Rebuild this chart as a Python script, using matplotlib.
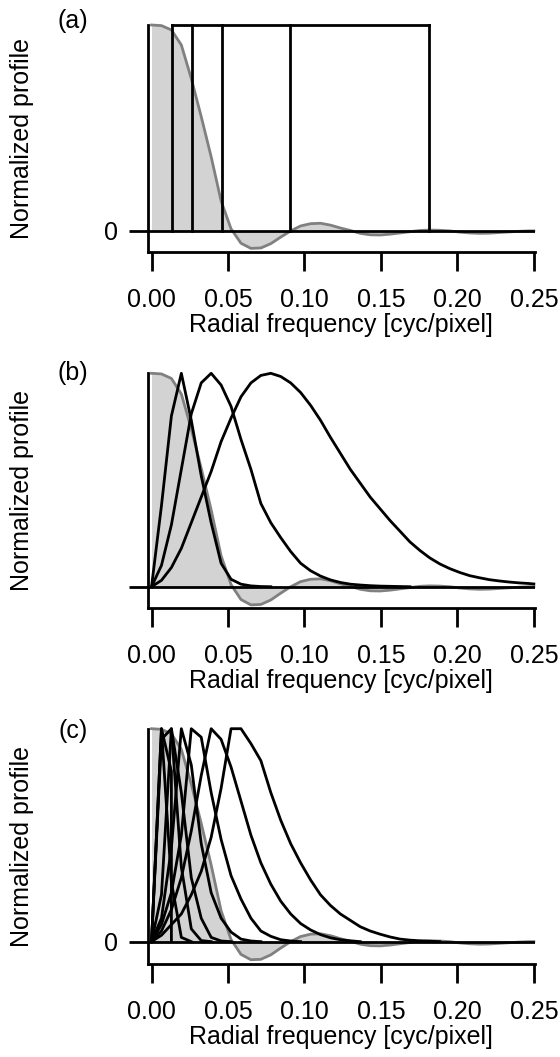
import numpy as np
import matplotlib.pyplot as plt

plt.rcParams['font.family'] = ['Liberation Sans', 'DejaVu Sans']
plt.rcParams['font.size'] = 18

# sampled radial frequencies [cyc/pixel]
freq = [0.0, 0.0065, 0.013, 0.0195, 0.026, 0.0325, 0.039, 0.0455, 0.052, 0.0585,
        0.065, 0.0715, 0.078, 0.0845, 0.091, 0.0975, 0.104, 0.1105, 0.117, 0.1235,
        0.13, 0.1365, 0.143, 0.1495, 0.156, 0.1625, 0.169, 0.1755, 0.182, 0.1885,
        0.195, 0.2015, 0.208, 0.2145, 0.221, 0.2275, 0.234, 0.2405, 0.247, 0.25]

# grey reference profile (same in all panels)
profile = [1.0, 0.997, 0.976, 0.903, 0.74, 0.555, 0.36, 0.145, 0.01, -0.06,
           -0.085, -0.083, -0.062, -0.03, 0.0, 0.024, 0.035, 0.037, 0.028, 0.014,
           0.002, -0.012, -0.019, -0.02, -0.016, -0.01, -0.004, 0.002, 0.004, 0.003,
           0.0, -0.006, -0.01, -0.012, -0.011, -0.008, -0.005, -0.002, 0.0, 0.0]

# (a) ideal band edges
band_edges = [0.0132, 0.0263, 0.0459, 0.0906, 0.1812]

# (b) octave filters
b_filters = [
    [0, 0.38, 0.80, 1.0, 0.78, 0.52, 0.30, 0.11, 0.035, 0.012, 0.004, 0.001, 0.0],
    [0, 0.10, 0.29, 0.55, 0.81, 0.955, 1.0, 0.945, 0.845, 0.69, 0.55, 0.39, 0.30,
     0.23, 0.165, 0.11, 0.075, 0.05, 0.032, 0.02, 0.012, 0.008, 0.005, 0.003,
     0.002, 0.001, 0.0],
    [0, 0.03, 0.09, 0.18, 0.30, 0.42, 0.54, 0.68, 0.79, 0.89, 0.955, 0.99, 1.0,
     0.985, 0.955, 0.91, 0.85, 0.78, 0.70, 0.625, 0.55, 0.485, 0.42, 0.365, 0.31,
     0.26, 0.21, 0.17, 0.135, 0.107, 0.085, 0.067, 0.052, 0.042, 0.033, 0.027,
     0.022, 0.018, 0.015, 0.013],
]

# (c) half-octave filters
c_first_x = [0.0, 0.0065, 0.013, 0.013]
c_first_y = [0.0, 1.0, 0.8, 0.0]
c_filters = [
    [0, 1.0, 0.28, 0.02, 0.0],
    [0, 0.95, 1.0, 0.35, 0.06, 0.005, 0.0],
    [0, 0.22, 1.0, 0.70, 0.30, 0.11, 0.02, 0.003, 0.0],
    [0, 0.11, 0.44, 1.0, 0.83, 0.46, 0.23, 0.11, 0.045, 0.012, 0.003, 0.0],
    [0, 0.08, 0.23, 0.50, 1.0, 0.96, 0.70, 0.48, 0.31, 0.20, 0.11, 0.05, 0.025,
     0.009, 0.003, 0.0],
    [0, 0.05, 0.15, 0.30, 0.52, 0.78, 1.0, 0.95, 0.82, 0.66, 0.50, 0.37, 0.27,
     0.19, 0.13, 0.085, 0.055, 0.033, 0.018, 0.009, 0.004, 0.0],
    [0, 0.03, 0.08, 0.13, 0.22, 0.33, 0.49, 0.72, 1.0, 1.0, 0.93, 0.85, 0.70,
     0.57, 0.46, 0.37, 0.29, 0.22, 0.17, 0.13, 0.10, 0.07, 0.05, 0.035, 0.022,
     0.012, 0.007, 0.004, 0.002, 0.0],
]

xticks = [0.0, 0.05, 0.10, 0.15, 0.20, 0.25]
xtick_labels = ['0.00', '0.05', '0.10', '0.15', '0.20', '0.25']

LW = 2.0

fig = plt.figure(figsize=(5.6, 10.57), dpi=100)
left, width = 147.7 / 560, 386.9 / 560
ax_a = fig.add_axes([left, 1 - 252.3 / 1057, width, 227.3 / 1057])
ax_b = fig.add_axes([left, 1 - 608.3 / 1057, width, 235.0 / 1057])
ax_c = fig.add_axes([left, 1 - 964.0 / 1057, width, 235.3 / 1057])


def style(ax, ylim, zero_label, panel, label_y):
    ax.set_xlim(-0.0025, 0.2505)
    ax.set_ylim(*ylim)
    ax.spines[['top', 'right']].set_visible(False)
    for s in ['left', 'bottom']:
        ax.spines[s].set_linewidth(LW)
    ax.set_xticks(xticks)
    ax.set_xticklabels(xtick_labels)
    ax.set_yticks([0])
    ax.set_yticklabels([zero_label])
    ax.tick_params(axis='both', direction='out', length=13.7, width=LW)
    ax.tick_params(axis='x', pad=11.9)
    ax.tick_params(axis='y', pad=7.5)
    ax.set_xlabel('Radial frequency [cyc/pixel]', labelpad=0.8)
    ax.text(-0.325, 0.5, 'Normalized profile', rotation=90, ha='center',
            va='center', transform=ax.transAxes)
    ax.axhline(0, color='k', lw=LW, zorder=4)
    fig.text(73 / 560, 1 - label_y / 1057, panel, ha='center', va='center')


def grey(ax):
    ax.fill_between(freq, profile, 0, color='#d3d3d3', lw=0, zorder=1)
    ax.plot(freq, profile, color='#808080', lw=LW, zorder=2, clip_on=False)


# (a)
grey(ax_a)
for e in band_edges:
    ax_a.plot([e, e], [0, 1], color='k', lw=LW, zorder=3, clip_on=False)
ax_a.plot([band_edges[0], band_edges[-1]], [1, 1], color='k', lw=LW,
          zorder=3, clip_on=False)
style(ax_a, (-0.104, 1.0), '0', '(a)', 21)

# (b)
grey(ax_b)
for f in b_filters:
    ax_b.plot(freq[:len(f)], f, color='k', lw=LW, zorder=3, clip_on=False)
style(ax_b, (-0.101, 1.0), '', '(b)', 373)

# (c)
grey(ax_c)
ax_c.plot(c_first_x, c_first_y, color='k', lw=LW, zorder=3, clip_on=False)
for f in c_filters:
    ax_c.plot(freq[:len(f)], f, color='k', lw=LW, zorder=3, clip_on=False)
style(ax_c, (-0.105, 1.0), '0', '(c)', 731)

fig.savefig('out.png', dpi=100)
